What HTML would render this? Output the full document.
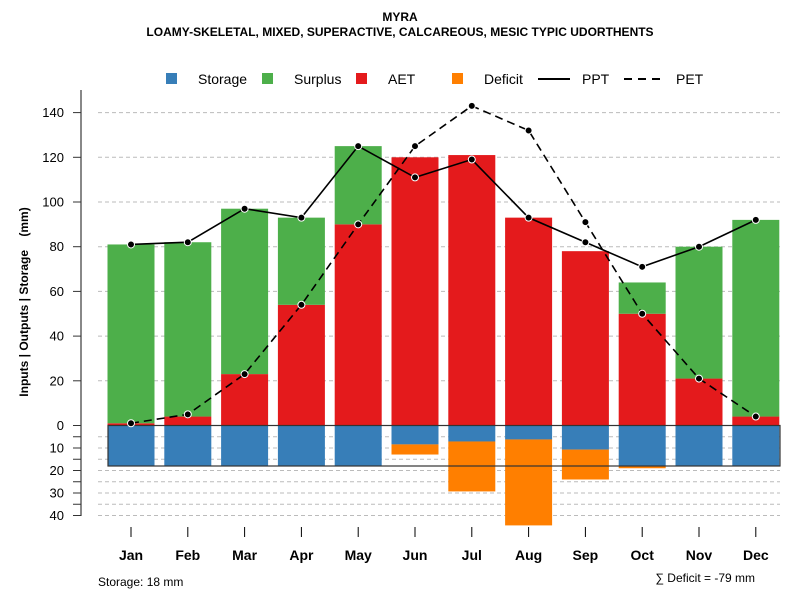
<!DOCTYPE html>
<html><head><meta charset="utf-8"><style>
body{margin:0;background:#fff;}
svg{font-family:"Liberation Sans",Arial,sans-serif;}
</style></head><body>
<svg id="chart" width="800" height="600"></svg>
<script>
const months=["Jan","Feb","Mar","Apr","May","Jun","Jul","Aug","Sep","Oct","Nov","Dec"];
const storage=[18,18,18,18,18,8.4,7.1,6.2,10.7,18,18,18];
const deficit=[0,0,0,0,0,4.5,22.2,38.2,13.3,1,0,0];
const aet=[1,4,23,54,90,120,121,93,78,50,21,4];
const surplus=[80,78,74,39,35,0,0,0,0,14,59,88];
const ppt=[81,82,97,93,125,111,119,93,82,71,80,92];
const pet=[1,5,23,54,90,125,143,132,91,50,21,4];
const upTicks=[0,20,40,60,80,100,120,140];
const downTicks=[10,20,30,40];
const maxStorage=18, sumDeficit=-79;

const NS="http://www.w3.org/2000/svg";
const svg=document.getElementById('chart');
const Y0=425.5, K=2.235, KD=2.25;
const yUp=v=>Y0-v*K, yDn=v=>Y0+v*KD;
const xC=i=>131+i*56.8, BW=47;
function el(t,a,p){const e=document.createElementNS(NS,t);for(const k in a)e.setAttribute(k,a[k]);(p||svg).appendChild(e);return e;}
function txt(x,y,s,a){const e=el('text',Object.assign({x:x,y:y},a));e.textContent=s;return e;}

let t=txt(400,21,"MYRA",{'text-anchor':'middle','font-size':12,'font-weight':'bold'});


t=txt(400,36,"LOAMY-SKELETAL, MIXED, SUPERACTIVE, CALCAREOUS, MESIC TYPIC UDORTHENTS",{'text-anchor':'middle','font-size':12,'font-weight':'bold'});



const grid=el('g',{});


upTicks.forEach(v=>{if(v>0)el('line',{x1:98,x2:780,y1:yUp(v),y2:yUp(v),stroke:'#bbb','stroke-dasharray':'4,3'},grid);});
for(let v=5;v<=40;v+=5)el('line',{x1:98,x2:780,y1:yDn(v),y2:yDn(v),stroke:'#bbb','stroke-dasharray':'4,3'},grid);

months.forEach((m,i)=>{
 const x=xC(i)-BW/2;
 let r=el('rect',{x:x,y:yUp(aet[i]),width:BW,height:aet[i]*K,fill:'#E41A1C'});
 
 
 r=el('rect',{x:x,y:yUp(aet[i]+surplus[i]),width:BW,height:surplus[i]*K,fill:'#4DAF4A'});
 
 
 r=el('rect',{x:x,y:Y0,width:BW,height:storage[i]*KD,fill:'#377EB8'});
 
 
 r=el('rect',{x:x,y:yDn(storage[i]),width:BW,height:deficit[i]*KD,fill:'#FF7F00'});
 
 
});
let box=el('rect',{x:108,y:Y0,width:672,height:maxStorage*KD,fill:'none',stroke:'#333','stroke-width':1.2});



function line(arr,dash,name){
 const p=el('polyline',{points:arr.map((v,i)=>xC(i)+','+yUp(v)).join(' '),fill:'none',stroke:'#000','stroke-width':1.6,'stroke-dasharray':dash});
 
 
 arr.forEach((v,i)=>{const c=el('circle',{cx:xC(i),cy:yUp(v),r:3.5,fill:'#000',stroke:'#fff','stroke-width':1});
 
 });
}
line(ppt,'none','ppt');
line(pet,'8,5','pet');

const ax=el('g',{});


el('line',{x1:81,x2:81,y1:90,y2:516,stroke:'#888','stroke-width':2},ax);
upTicks.forEach(v=>{el('line',{x1:73,x2:81,y1:yUp(v),y2:yUp(v),stroke:'#333'},ax);
 txt(64,yUp(v)+4.5,String(v),{'text-anchor':'end','font-size':13},ax);});
for(let v=5;v<=40;v+=5)el('line',{x1:73,x2:81,y1:yDn(v),y2:yDn(v),stroke:'#333'},ax);
downTicks.forEach(v=>txt(64,yDn(v)+4.5,String(v),{'text-anchor':'end','font-size':13},ax));
t=txt(0,0,"Inputs | Outputs | Storage    (mm)",{'font-size':12,'font-weight':'bold','text-anchor':'middle',style:'white-space:pre',transform:'translate(28,302) rotate(-90)'});



const xa=el('g',{});


months.forEach((m,i)=>{el('line',{x1:xC(i),x2:xC(i),y1:527,y2:537,stroke:'#000'},xa);
 txt(xC(i),560,m,{'text-anchor':'middle','font-size':14,'font-weight':'bold'},xa);});

const lg=el('g',{});


[["Storage",'#377EB8',166],["Surplus",'#4DAF4A',262],["AET",'#E41A1C',356],["Deficit",'#FF7F00',452]].forEach(d=>{
 el('rect',{x:d[2],y:73,width:11,height:11,fill:d[1]},lg);txt(d[2]+32,84,d[0],{'font-size':14},lg);});
el('line',{x1:538,x2:570,y1:79,y2:79,stroke:'#000','stroke-width':2},lg);txt(582,84,"PPT",{'font-size':14},lg);
el('line',{x1:624,x2:662,y1:79,y2:79,stroke:'#000','stroke-width':2,'stroke-dasharray':'8,6'},lg);txt(676,84,"PET",{'font-size':14},lg);

t=txt(98,586,"Storage: "+maxStorage+" mm",{'font-size':12});


t=txt(755,582,"\u2211 Deficit = "+sumDeficit+" mm",{'font-size':12,'text-anchor':'end'});


</script>
</body></html>
